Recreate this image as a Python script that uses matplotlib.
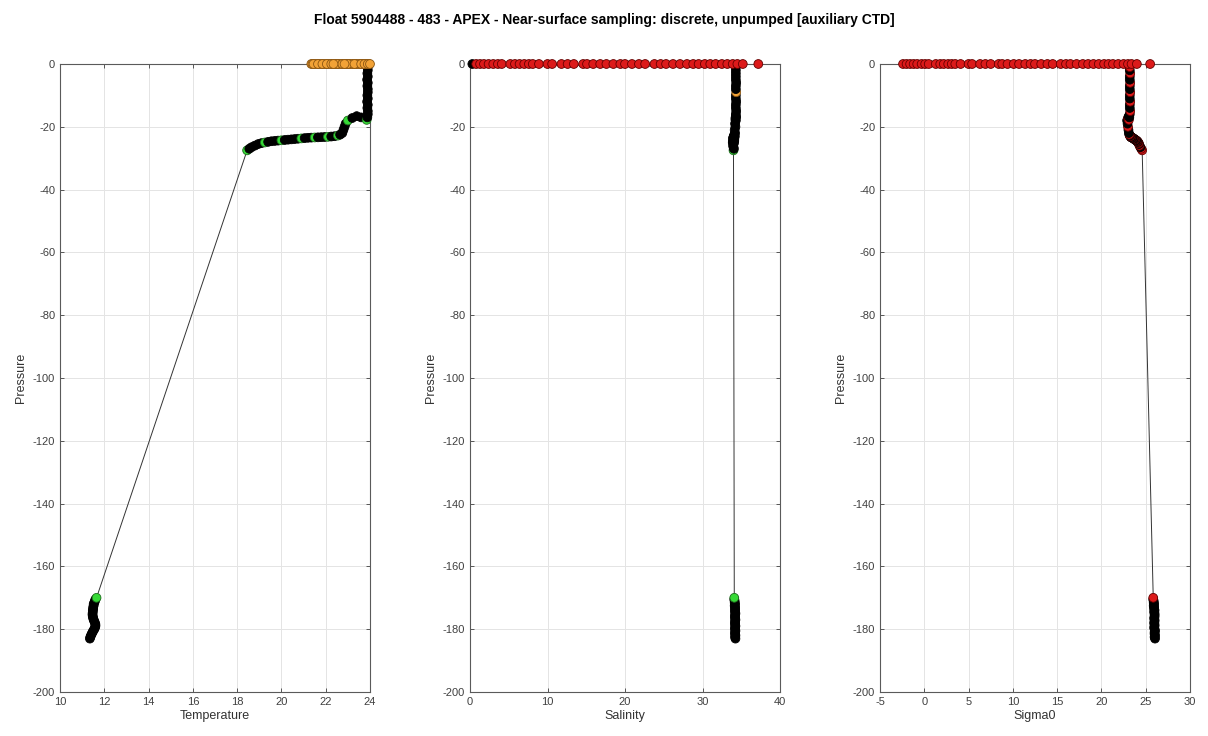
#!/usr/bin/env python3
"""Float 5904488 profile 483: T, S and sigma0 against pressure, coloured by QC flag."""

import matplotlib.pyplot as plt
import numpy as np

plt.rcParams["font.family"] = ["Liberation Sans", "DejaVu Sans"]
plt.rcParams["axes.unicode_minus"] = False

# deep samples (deepest first)
p_deep = [-183.0, -182.5, -182.0, -181.5, -181.0, -180.5, -180.0, -179.5, -179.0,
          -178.5, -178.0, -177.5, -177.0, -176.5, -176.0, -175.5, -175.0, -174.5,
          -174.0, -173.5, -173.0, -172.5, -172.0, -171.5, -171.0, -170.5, -170.0]
t_deep = [11.35, 11.37, 11.40, 11.43, 11.47, 11.50, 11.55, 11.58, 11.60, 11.60,
          11.58, 11.55, 11.52, 11.50, 11.48, 11.47, 11.47, 11.48, 11.48, 11.50,
          11.50, 11.52, 11.52, 11.55, 11.58, 11.60, 11.65]
s_deep = [34.25, 34.20, 34.25, 34.20, 34.20, 34.25, 34.20, 34.20, 34.25, 34.20,
          34.20, 34.20, 34.25, 34.20, 34.20, 34.20, 34.25, 34.20, 34.20, 34.20,
          34.20, 34.15, 34.20, 34.15, 34.15, 34.10, 34.10]
sig_deep = [26.05, 26.00, 26.05, 26.00, 26.00, 26.05, 26.00, 25.95, 26.00, 26.00,
            25.95, 26.00, 26.00, 25.95, 26.00, 26.00, 26.00, 25.95, 26.00, 25.95,
            25.95, 25.90, 25.95, 25.90, 25.90, 25.85, 25.85]

# upper profile samples
p_up = [-27.5, -27.0, -26.5, -26.0, -25.5, -25.2, -25.0, -24.8, -24.6, -24.5,
        -24.4, -24.3, -24.2, -24.1, -24.0, -23.9, -23.8, -23.7, -23.6, -23.5,
        -23.45, -23.4, -23.35, -23.3, -23.25, -23.2, -23.1, -23.0, -22.8, -22.5,
        -22.0, -21.0, -20.0, -19.0, -18.0, -17.2, -16.6, -17.0, -17.8, -17.0,
        -16.0, -15.0, -14.0, -13.0, -12.0, -11.0, -10.0, -9.0, -8.0, -7.0,
        -6.0, -5.0, -4.0, -3.0, -2.0, -1.0]
t_up = [18.45, 18.55, 18.65, 18.80, 18.95, 19.10, 19.25, 19.40, 19.55, 19.70,
        19.85, 20.00, 20.15, 20.30, 20.45, 20.60, 20.75, 20.90, 21.05, 21.20,
        21.35, 21.50, 21.65, 21.80, 21.95, 22.10, 22.25, 22.40, 22.55, 22.65,
        22.75, 22.80, 22.85, 22.90, 23.00, 23.20, 23.40, 23.60, 23.85, 23.88,
        23.90, 23.90, 23.88, 23.90, 23.87, 23.90, 23.88, 23.90, 23.90, 23.88,
        23.90, 23.87, 23.90, 23.88, 23.90, 23.90]
s_up = [34.00, 34.05, 34.00, 33.95, 34.00, 34.05, 33.90, 33.95, 34.00, 34.10,
        34.00, 33.95, 34.05, 34.10, 34.00, 34.05, 34.10, 34.00, 33.95, 34.05,
        34.10, 34.00, 34.05, 34.10, 34.00, 34.15, 34.10, 34.05, 34.15, 34.10,
        34.20, 34.15, 34.25, 34.20, 34.30, 34.25, 34.30, 34.30, 34.25, 34.30,
        34.30, 34.35, 34.30, 34.30, 34.35, 34.30, 34.30, 34.35, 34.30, 34.30,
        34.35, 34.30, 34.30, 34.30, 34.30, 34.30]
sig_up = [24.60, 24.50, 24.40, 24.30, 24.25, 24.20, 24.15, 24.10, 24.05, 24.00,
          23.95, 23.90, 23.85, 23.80, 23.75, 23.70, 23.65, 23.60, 23.55, 23.50,
          23.45, 23.40, 23.40, 23.35, 23.35, 23.30, 23.30, 23.25, 23.20, 23.15,
          23.10, 23.05, 23.00, 22.95, 22.90, 23.00, 23.10, 23.05, 23.10, 23.15,
          23.20, 23.25, 23.20, 23.20, 23.25, 23.20, 23.20, 23.25, 23.20, 23.20,
          23.25, 23.20, 23.20, 23.25, 23.20, 23.20]

# near-surface discrete samples (all at p = 0)
p_surf = [0.0] * 48
t_surf = [21.35, 21.50, 21.70, 21.90, 22.10, 22.30, 22.45, 22.60, 22.80, 22.95,
          23.10, 23.25, 23.40, 23.55, 23.70, 23.85, 23.95, 21.40, 21.60, 21.80,
          22.00, 22.20, 22.40, 22.55, 22.70, 22.90, 23.05, 23.20, 23.35, 23.50,
          23.65, 23.80, 23.90, 21.45, 21.65, 21.85, 22.05, 22.25, 22.50, 22.75,
          23.00, 23.30, 23.60, 23.75, 23.90, 24.00, 22.35, 22.85]
s_surf = [0.3, 0.8, 1.3, 1.8, 2.4, 3.0, 3.6, 4.1, 5.2, 5.8,
          6.4, 7.0, 7.6, 8.1, 8.9, 10.0, 10.6, 11.8, 12.6, 13.4,
          14.6, 15.1, 15.9, 16.8, 17.6, 18.5, 19.4, 20.0, 20.9, 21.8,
          22.6, 23.8, 24.6, 25.3, 26.2, 27.1, 28.0, 28.8, 29.5, 30.3,
          31.0, 31.7, 32.5, 33.2, 33.9, 34.5, 35.2, 37.2]
sig_surf = [-2.4, -2.0, -1.6, -1.2, -0.8, -0.3, 0.1, 0.5, 1.3, 1.8,
            2.2, 2.7, 3.1, 3.5, 4.1, 5.0, 5.4, 6.3, 6.9, 7.5,
            8.4, 8.8, 9.4, 10.1, 10.7, 11.4, 12.0, 12.5, 13.2, 13.9,
            14.5, 15.4, 16.0, 16.5, 17.2, 17.9, 18.5, 19.1, 19.7, 20.3,
            20.8, 21.3, 21.9, 22.5, 23.0, 23.4, 24.0, 25.5]

# QC flags: 0 = unflagged, 1 = good, 3 = probably bad, 4 = bad
t_qc = ([0] * 26 + [1]
        + [1, 0, 0, 0, 0, 0, 1, 0, 0, 0, 0, 1, 0, 0, 0, 0, 0, 1, 0, 0,
           0, 1, 0, 0, 0, 1, 0, 0, 1, 0, 0, 0, 0, 0, 1, 0, 0, 0, 1, 0,
           0, 0, 0, 0, 0, 0, 0, 0, 0, 0, 0, 0, 0, 0, 0, 0]
        + [3] * 48)
s_qc = ([0] * 26 + [1]
        + [1, 0, 0, 0, 0, 0, 0, 0, 0, 0, 0, 0, 0, 0, 0, 0, 0, 0, 0, 0,
           0, 0, 0, 0, 0, 0, 0, 0, 0, 0, 0, 0, 0, 0, 0, 0, 0, 0, 0, 0,
           0, 0, 0, 0, 0, 0, 0, 3, 0, 0, 0, 0, 0, 0, 0, 0]
        + [0] + [4] * 47)
sig_qc = ([0] * 26 + [4]
          + [4, 4, 0, 4, 0, 4, 4, 0, 4, 0, 4, 0, 0, 4, 0, 4, 0, 0, 4, 0,
             0, 4, 0, 0, 4, 0, 0, 4, 0, 4, 0, 0, 4, 0, 0, 4, 0, 0, 4, 0,
             0, 4, 0, 0, 4, 0, 0, 4, 0, 0, 4, 0, 0, 4, 0, 4]
          + [4] * 48)

pressure = p_deep + p_up + p_surf
panels = [
    (t_deep + t_up + t_surf, t_qc, (10, 24), np.arange(10, 25, 2), "Temperature"),
    (s_deep + s_up + s_surf, s_qc, (0, 40), np.arange(0, 41, 10), "Salinity"),
    (sig_deep + sig_up + sig_surf, sig_qc, (-5, 30), np.arange(-5, 31, 5), "Sigma0"),
]

face = {0: "black", 1: "#36d936", 3: "#f2a236", 4: "#dc1a1a"}
edge = {0: "black", 1: "#1d6e1d", 3: "#8a5512", 4: "#650000"}

fig = plt.figure(figsize=(12.08, 7.36), dpi=100)
fig.suptitle("Float 5904488 - 483 - APEX - Near-surface sampling: discrete, unpumped [auxiliary CTD]",
             fontsize=10, fontweight="bold", y=0.982)

lefts = [60 / 1208, 470 / 1208, 880 / 1208]
for left, (x, qc, xlim, xticks, xlabel) in zip(lefts, panels):
    ax = fig.add_axes([left, 44 / 736, 310 / 1208, 628 / 736])
    ax.plot(x, pressure, "-", color="#333333", lw=0.7, zorder=2)
    ax.scatter(x, pressure, s=40, c=[face[q] for q in qc],
               edgecolors=[edge[q] for q in qc], linewidths=0.6, zorder=3, clip_on=False)
    ax.set_xlim(*xlim)
    ax.set_ylim(-200, 0)
    ax.set_xticks(xticks)
    ax.set_yticks(np.arange(-200, 1, 20))
    ax.grid(True, color="#e4e4e4", lw=0.7)
    ax.set_axisbelow(True)
    ax.tick_params(direction="in", length=3, top=True, right=True,
                   labelsize=8, colors="#404040", width=0.6)
    for sp in ax.spines.values():
        sp.set_color("#5a5a5a")
        sp.set_linewidth(0.8)
    ax.set_xlabel(xlabel, fontsize=9, color="#333333", labelpad=2)
    ax.set_ylabel("Pressure", fontsize=9, color="#333333", labelpad=4)

fig.savefig("out.png", dpi=100)
